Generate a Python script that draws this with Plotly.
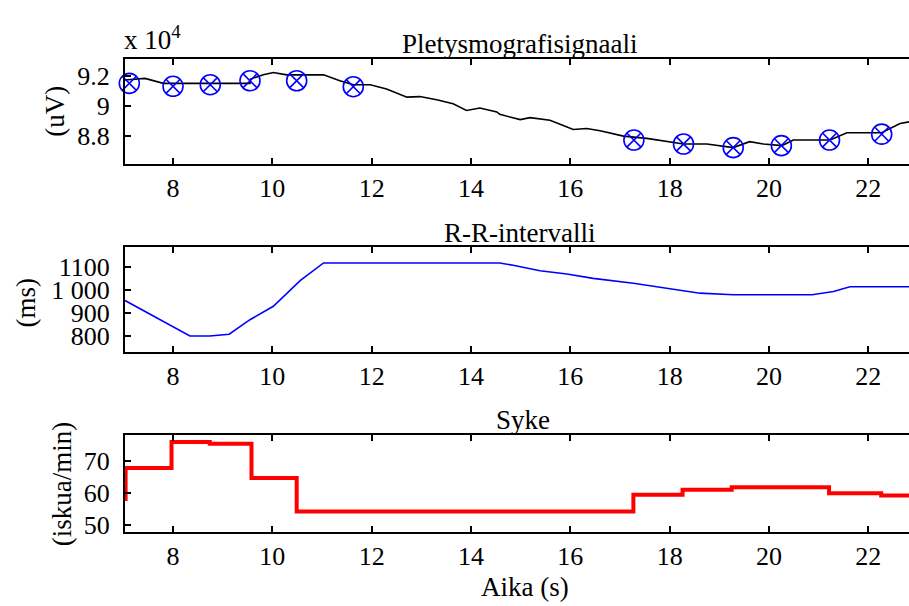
import plotly.graph_objects as go

# --- Pletysmografisignaali (uV) ---
ppg_t = [7.033, 7.436, 7.804, 9.55, 9.56, 9.818, 10.02, 10.29, 11.03, 11.36, 11.63, 11.97,
         12.30, 12.71, 12.97, 13.31, 13.64, 13.91, 14.18, 14.52, 14.58, 14.99, 15.19, 15.59,
         16.06, 16.33, 16.60, 17.07, 17.54, 17.94, 18.28, 18.75, 19.01, 19.28, 19.61, 19.89,
         20.26, 20.49, 21.23, 21.57, 22.27, 22.64, 22.82]
ppg_v = [91736, 91848, 91519, 91519, 91802, 92086, 92244, 92086, 92086, 91690, 91426, 91426,
         91143, 90596, 90635, 90418, 90154, 89712, 89870, 89607, 89448, 89099, 89231, 89053,
         88440, 88506, 88354, 87998, 87847, 87629, 87471, 87471, 87339, 87233, 87629, 87471,
         87365, 87734, 87734, 88222, 88222, 88835, 88947]

# detected pulse peaks
peak_t = [7.12, 8.00, 8.75, 9.55, 10.49, 11.63, 17.28, 18.28, 19.28, 20.25, 21.22, 22.27]
peak_v = [91519, 91321, 91426, 91690, 91690, 91295, 87734, 87471, 87233, 87365, 87734, 88130]

# --- R-R-intervalli (ms) ---
rr_t = [7.033, 7.54, 8.34, 8.74, 9.13, 9.55, 10.02, 10.56, 11.03, 14.58, 14.85, 15.39,
        15.93, 16.46, 17.27, 17.94, 18.61, 19.28, 20.87, 21.30, 21.63, 22.82]
rr_v = [954, 894, 800, 800, 808, 871, 929, 1040, 1117, 1117, 1107, 1083,
        1069, 1050, 1029, 1007, 986, 979, 979, 993, 1014, 1014]

# --- Syke (iskua/min), stepwise ---
hr_t = [7.033, 7.045, 7.97, 8.74, 9.58, 10.49, 17.27, 18.26, 19.25, 21.21, 22.26, 22.82]
hr_v = [58.0, 67.7, 75.8, 75.3, 64.6, 54.1, 59.3, 60.9, 61.7, 59.8, 59.1, 59.1]

x_ticks = [8, 10, 12, 14, 16, 18, 20, 22]
y1_ticks = [88000, 90000, 92000]
y1_text = ["8.8", "9", "9.2"]
y2_ticks = [800, 900, 1000, 1100]
y2_text = ["800", "900", "1 000", "1100"]
y3_ticks = [50, 60, 70]

W, H = 909, 606
ML = 125
FONT = "Liberation Serif"
TICK_SIZE = 26
TEXT_SIZE = 27

fig = go.Figure()
fig.add_trace(go.Scatter(x=ppg_t, y=ppg_v, mode="lines", line=dict(color="black", width=1.6),
                         xaxis="x", yaxis="y", showlegend=False))
fig.add_trace(go.Scatter(x=peak_t, y=peak_v, mode="markers",
                         marker=dict(symbol="circle-x-open", size=20, color="#0000ff",
                                     line=dict(width=1.6, color="#0000ff")),
                         xaxis="x", yaxis="y", showlegend=False, cliponaxis=False))
fig.add_trace(go.Scatter(x=rr_t, y=rr_v, mode="lines", line=dict(color="#0000ff", width=1.6),
                         xaxis="x2", yaxis="y2", showlegend=False))
fig.add_trace(go.Scatter(x=hr_t, y=hr_v, mode="lines", line=dict(color="#ff0000", width=4, shape="hv"),
                         xaxis="x3", yaxis="y3", showlegend=False))


def px_dom(top, bottom):
    return [1 - bottom / H, 1 - top / H]


axis_common = dict(showline=True, linecolor="black", linewidth=2, ticks="inside",
                   ticklen=6, tickwidth=2, tickcolor="black", showgrid=False, zeroline=False,
                   tickfont=dict(family=FONT, size=TICK_SIZE, color="black"))

xr = [7.033, 22.82]
layout = dict(
    width=W, height=H, plot_bgcolor="white", paper_bgcolor="white",
    margin=dict(l=ML, r=0, t=0, b=0),
    font=dict(family=FONT, color="black"),
)
for i, (top, bot) in enumerate([(60, 166), (250, 355.7), (440, 538.3)], start=1):
    sx = "" if i == 1 else str(i)
    layout["xaxis" + sx] = dict(axis_common, domain=[0, 1], range=xr, tickvals=x_ticks,
                                anchor="y" + sx, mirror="ticks", ticklabelstandoff=0)
    layout["yaxis" + sx] = dict(axis_common, domain=px_dom(top, bot), anchor="x" + sx,
                                mirror=False, ticklabelstandoff=8)

layout["yaxis"].update(range=[86132, 93121], tickvals=y1_ticks, ticktext=y1_text)
layout["yaxis2"].update(range=[732.7, 1185.7], tickvals=y2_ticks, ticktext=y2_text)
layout["yaxis3"].update(range=[47.65, 78.04], tickvals=y3_ticks)

fig.update_layout(**layout)


def txt(text, x, y, angle=0, size=TEXT_SIZE, xanchor="center"):
    # x, y given in page pixels; paper x spans the plotting width only
    fig.add_annotation(text=text, x=(x - ML) / (W - ML), y=1 - y / H, xref="paper", yref="paper",
                       showarrow=False, textangle=angle, xanchor=xanchor, yanchor="middle",
                       font=dict(family=FONT, size=size, color="black"))


txt("Pletysmografisignaali", 519, 45)
txt("R-R-intervalli", 519, 236)
txt("Syke", 523, 425)
txt("Aika (s)", 525, 594)
txt("x 10<sup>4</sup>", 122, 38, xanchor="left")
txt("(uV)", 55, 113, angle=-90)
txt("(ms)", 26, 306, angle=-90)
txt("(iskua/min)", 62, 490, angle=-90)

fig.write_html("out.html")
